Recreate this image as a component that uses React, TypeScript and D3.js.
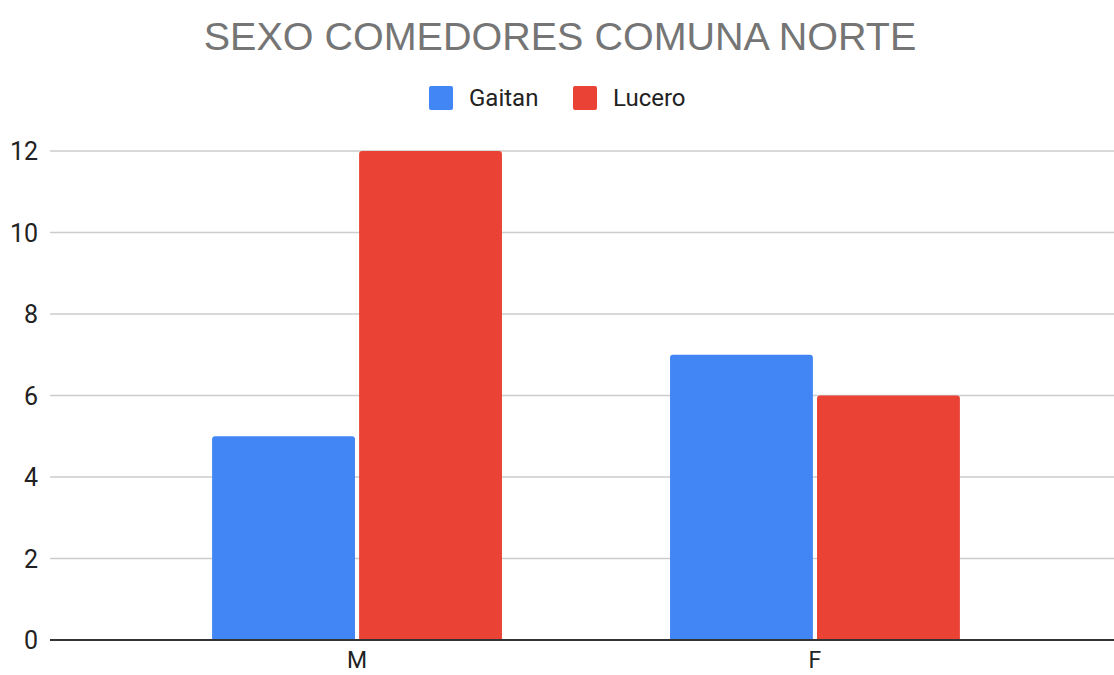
import React, { useEffect, useRef } from 'react';
import * as d3 from 'd3';

const categories = ['M', 'F'];
const seriesNames = ['Gaitan', 'Lucero'];
const gaitanValues = [5, 7];
const luceroValues = [12, 6];
const yTicks = [0, 2, 4, 6, 8, 10, 12];
const colors = ['#4285f4', '#ea4335'];

const W = 1114;
const H = 675;

const App = () => {
  const svgRef = useRef<SVGSVGElement>(null);

  useEffect(() => {
    document.body.style.margin = '0';
    const svg = d3.select(svgRef.current);
    svg.selectAll('*').remove();

    const font = 'Roboto, "Liberation Sans", Arial, sans-serif';
    const x = d3.scaleBand().domain(categories).range([50, 1122]).paddingInner(0.367).paddingOuter(0.354);
    const xs = d3.scaleBand().domain(seriesNames).range([0, x.bandwidth()]).paddingInner(0.028);
    const y = d3.scaleLinear().domain([0, 12]).range([640, 151]);

    // title
    svg.append('text')
      .attr('x', 560).attr('y', 50)
      .attr('text-anchor', 'middle')
      .style('font-family', '"Liberation Sans", Arial, sans-serif')
      .style('font-size', '39.5px')
      .style('fill', '#757575')
      .text('SEXO COMEDORES COMUNA NORTE');

    // legend
    const legendX = [429, 573];
    seriesNames.forEach((name, i) => {
      svg.append('rect')
        .attr('x', legendX[i]).attr('y', 86).attr('width', 24).attr('height', 24)
        .attr('rx', 2).attr('fill', colors[i]);
      svg.append('text')
        .attr('x', legendX[i] + 40).attr('y', 106)
        .style('font-family', font).style('font-size', '24px').style('fill', '#222')
        .text(name);
    });

    // grid
    svg.append('g').selectAll('line').data(yTicks.filter(t => t > 0)).join('line')
      .attr('x1', 50).attr('x2', W)
      .attr('y1', d => y(d)).attr('y2', d => y(d))
      .attr('stroke', '#cccccc').attr('stroke-width', 1.5);

    svg.append('g').selectAll('text').data(yTicks).join('text')
      .attr('x', 38).attr('y', d => y(d)).attr('dy', '0.36em')
      .attr('text-anchor', 'end')
      .style('font-family', font).style('font-size', '25px').style('fill', '#222')
      .text(d => d);

    // bars
    const rows = [gaitanValues, luceroValues];
    const r = 3;
    const barPath = (x0: number, w: number, top: number, bottom: number) =>
      `M${x0},${bottom}V${top + r}Q${x0},${top} ${x0 + r},${top}H${x0 + w - r}Q${x0 + w},${top} ${x0 + w},${top + r}V${bottom}Z`;

    categories.forEach((c, ci) => {
      seriesNames.forEach((s, si) => {
        const x0 = (x(c) ?? 0) + (xs(s) ?? 0);
        svg.append('path')
          .attr('d', barPath(x0, xs.bandwidth(), y(rows[si][ci]), y(0)))
          .attr('fill', colors[si]);
      });
    });

    // baseline
    svg.append('line')
      .attr('x1', 50).attr('x2', W).attr('y1', y(0)).attr('y2', y(0))
      .attr('stroke', '#333').attr('stroke-width', 2);

    svg.append('g').selectAll('text').data(categories).join('text')
      .attr('x', d => (x(d) ?? 0) + x.bandwidth() / 2).attr('y', 668)
      .attr('text-anchor', 'middle')
      .style('font-family', font).style('font-size', '23px').style('fill', '#222')
      .text(d => d);
  }, []);

  return <svg ref={svgRef} width={W} height={H} style={{ display: 'block', background: '#fff' }} />;
};

export default App;
